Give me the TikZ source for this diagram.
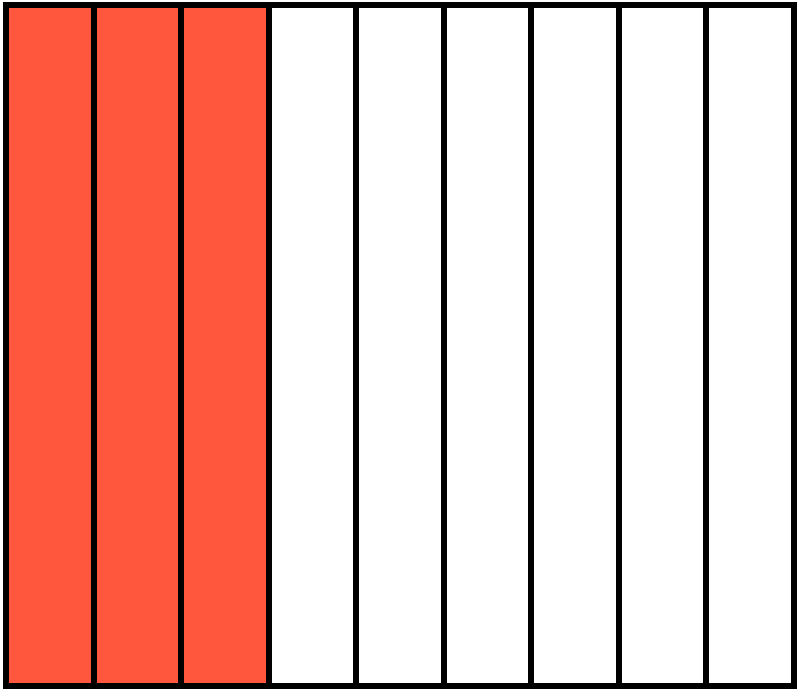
\documentclass[tikz,border=0pt]{standalone}
\definecolor{stripred}{RGB}{255,87,61}
\begin{document}
\begin{tikzpicture}[x=1pt,y=-1pt,
  strip/.style={draw=black,line width=6pt},
  redfill/.style={fill=stripred}]
\useasboundingbox (0,0) rectangle (800,691);
\foreach \i in {0,1,2}{
  \pgfmathsetmacro{\xa}{6+\i*87.556}
  \pgfmathsetmacro{\xb}{6+(\i+1)*87.556}
  \fill[redfill] (\xa,5) rectangle (\xb,686);
}
\foreach \i in {0,...,8}{
  \pgfmathsetmacro{\xa}{6+\i*87.556}
  \pgfmathsetmacro{\xb}{6+(\i+1)*87.556}
  \draw[strip] (\xa,5) rectangle (\xb,686);
}
\end{tikzpicture}
\end{document}
